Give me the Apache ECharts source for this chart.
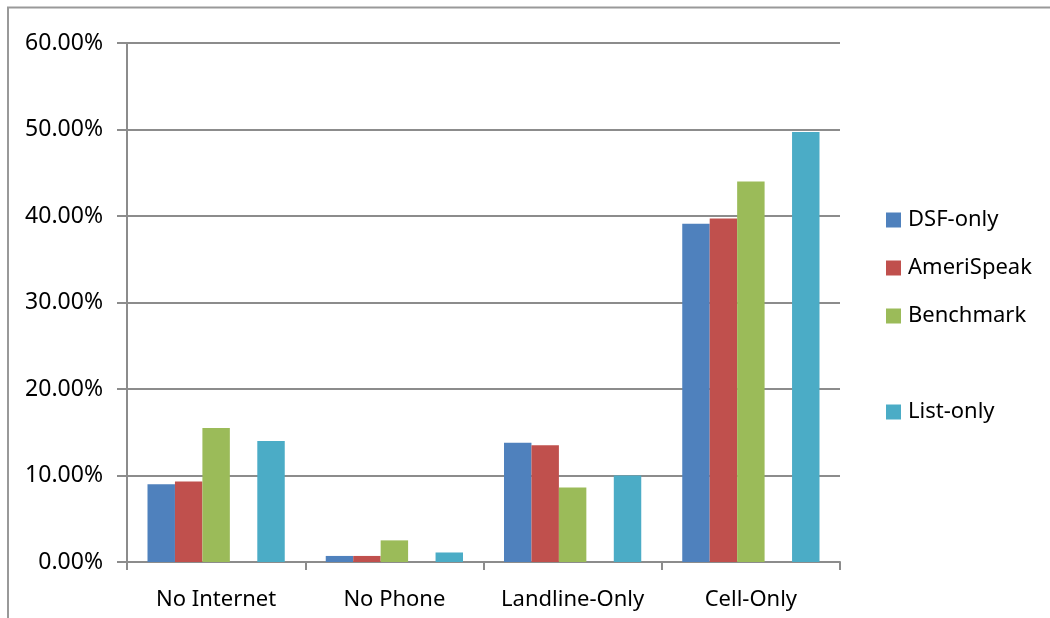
<!DOCTYPE html>
<html>
<head>
<meta charset="utf-8">
<script src="https://cdn.jsdelivr.net/npm/echarts@6/dist/echarts.min.js"></script>
<style>
  html, body { margin: 0; padding: 0; background: #fff; }
  #chart { width: 1050px; height: 618px; }
</style>
</head>
<body>
<div id="chart"></div>
<script>
// Household phone / internet status by sample source (share of respondents)
const categories = ['No Internet', 'No Phone', 'Landline-Only', 'Cell-Only'];
const dsfOnly    = [9.0, 0.7, 13.8, 39.1];
const ameriSpeak = [9.3, 0.7, 13.5, 39.7];
const benchmark  = [15.5, 2.5, 8.6, 44.0];
const spacer     = [null, null, null, null];
const listOnly   = [14.0, 1.1, 10.0, 49.7];
const yTicks     = [0, 10, 20, 30, 40, 50, 60];

const seriesNames  = ['DSF-only', 'AmeriSpeak', 'Benchmark', ' ', 'List-only'];
const seriesData   = [dsfOnly, ameriSpeak, benchmark, spacer, listOnly];
const seriesColors = ['#4f81bd', '#c0504d', '#9bbb59', 'rgba(0,0,0,0)', '#4bacc6'];

const axisGrey = '#8c8c8c';
const font = '"Noto Sans", "Liberation Sans", sans-serif';

const chart = echarts.init(document.getElementById('chart'), null, { renderer: 'canvas' });

chart.setOption({
  animation: false,
  backgroundColor: '#ffffff',
  graphic: [
    // outer chart frame (top and left edges)
    { type: 'polyline', shape: { points: [[8, 618], [8, 7.5], [1050, 7.5]] },
      style: { stroke: '#999999', lineWidth: 2, fill: null }, silent: true }
  ],
  grid: { left: 127, right: 210, top: 43, bottom: 56, containLabel: false },
  legend: {
    orient: 'vertical',
    left: 886,
    top: 208,
    padding: 0,
    itemWidth: 15,
    itemHeight: 15,
    itemGap: 24,
    icon: 'rect',
    data: seriesNames,
    textStyle: { fontFamily: font, fontSize: 22, lineHeight: 24, color: '#000', padding: [0, 0, 0, 2] },
    selectedMode: false
  },
  xAxis: {
    type: 'category',
    data: categories,
    axisLine: { lineStyle: { color: axisGrey, width: 2 } },
    axisTick: { show: true, interval: 0, length: 8, lineStyle: { color: axisGrey, width: 2 } },
    axisLabel: { interval: 0, fontFamily: font, fontSize: 22, color: '#000', margin: 27 }
  },
  yAxis: {
    type: 'value',
    min: yTicks[0],
    max: yTicks[yTicks.length - 1],
    interval: 10,
    axisLine: { show: true, lineStyle: { color: axisGrey, width: 2 } },
    axisTick: { show: true, length: 10, lineStyle: { color: axisGrey, width: 2 } },
    splitLine: { show: true, lineStyle: { color: axisGrey, width: 2 } },
    axisLabel: {
      fontFamily: font, fontSize: 23, color: '#000', margin: 24,
      formatter: v => v.toFixed(2) + '%'
    }
  },
  series: seriesNames.map((name, i) => ({
    name: name,
    type: 'bar',
    data: seriesData[i],
    barGap: '0%',
    barCategoryGap: '23%',
    itemStyle: { color: seriesColors[i] }
  }))
});
</script>
</body>
</html>
